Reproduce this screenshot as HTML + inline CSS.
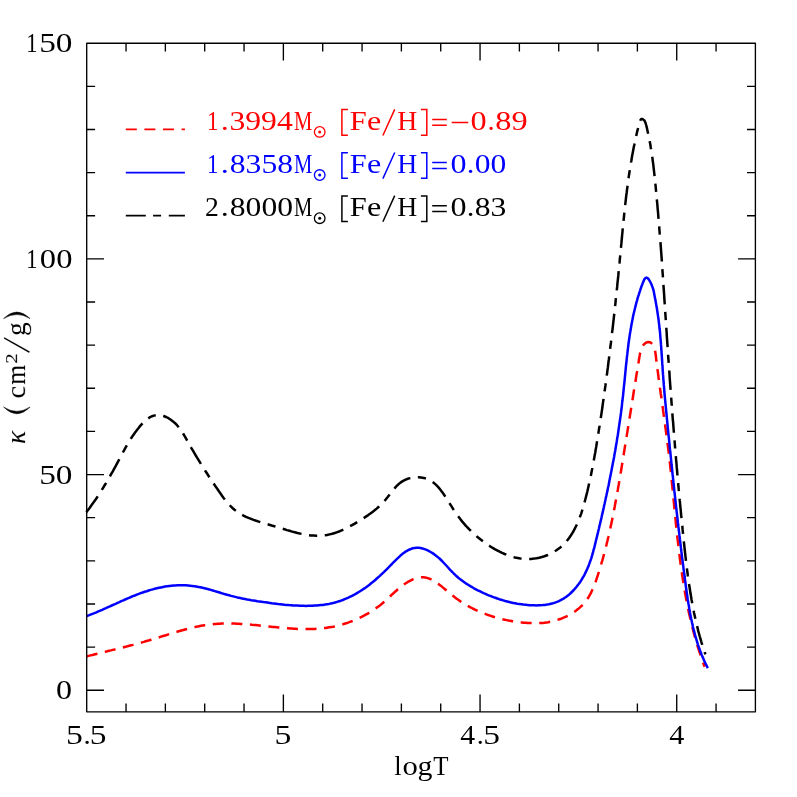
<!DOCTYPE html>
<html><head><meta charset="utf-8"><title>kappa vs logT</title>
<style>html,body{margin:0;padding:0;background:#fff;}body{width:797px;height:797px;overflow:hidden;font-family:"Liberation Serif",serif;}svg{display:block;}text{font-family:"Liberation Serif",serif;}</style></head><body>
<svg width="797" height="797" viewBox="0 0 797 797">
<rect x="0" y="0" width="797" height="797" fill="#fff"/>
<g fill="none" stroke-width="2.50" stroke-linejoin="round">
<path d="M86.8 656.4L88.6 655.9L90.5 655.4L92.4 655.0L94.2 654.5L96.1 654.0L98.0 653.6L99.8 653.1L101.7 652.6L103.5 652.2L105.4 651.7L107.2 651.3L109.1 650.8L110.9 650.4L112.7 649.9L114.6 649.5L116.4 649.0L118.3 648.6L120.1 648.1L121.9 647.7L123.8 647.2L125.6 646.7L127.4 646.3L129.3 645.8L131.1 645.3L132.9 644.9L134.7 644.4L136.6 643.9L138.4 643.4L140.2 642.9L142.1 642.4L143.9 641.9L145.7 641.3L147.5 640.8L149.4 640.3L151.2 639.7L153.0 639.2L154.9 638.6L156.7 638.0L158.5 637.5L160.4 636.9L162.2 636.3L164.0 635.7L165.9 635.2L167.7 634.6L169.5 634.0L171.4 633.4L173.2 632.9L175.1 632.3L176.9 631.8L178.7 631.2L180.6 630.7L182.4 630.2L184.3 629.7L186.1 629.2L188.0 628.7L189.8 628.2L191.7 627.8L193.5 627.4L195.4 626.9L197.3 626.6L199.1 626.2L201.0 625.8L202.8 625.5L204.7 625.2L206.6 624.9L208.5 624.6L210.3 624.4L212.2 624.2L214.1 624.0L216.0 623.9L217.8 623.8L219.7 623.7L221.6 623.6L223.5 623.5L225.4 623.5L227.3 623.5L229.1 623.5L231.0 623.5L232.9 623.6L234.8 623.6L236.7 623.7L238.6 623.8L240.5 623.9L242.4 624.0L244.3 624.1L246.2 624.3L248.1 624.4L250.0 624.6L251.9 624.8L253.8 624.9L255.7 625.1L257.6 625.3L259.5 625.5L261.4 625.7L263.3 625.9L265.2 626.1L267.2 626.3L269.1 626.5L271.0 626.7L272.9 626.9L274.8 627.1L276.7 627.3L278.6 627.5L280.5 627.7L282.4 627.9L284.3 628.0L286.2 628.2L288.1 628.3L290.0 628.5L291.9 628.6L293.8 628.7L295.7 628.8L297.6 628.9L299.5 629.0L301.4 629.0L303.3 629.1L305.2 629.1L307.1 629.1L308.9 629.1L310.8 629.1L312.7 629.0L314.6 628.9L316.5 628.8L318.4 628.7L320.2 628.5L322.1 628.3L324.0 628.1L325.9 627.9L327.7 627.6L329.6 627.3L331.5 627.0L333.3 626.7L335.2 626.3L337.1 625.8L338.9 625.4L340.8 624.9L342.6 624.4L344.4 623.8L346.3 623.2L348.1 622.6L349.9 621.9L351.7 621.3L353.5 620.5L355.3 619.8L357.1 619.0L358.8 618.2L360.6 617.4L362.3 616.5L364.0 615.7L365.7 614.7L367.3 613.8L369.0 612.8L370.6 611.8L372.2 610.8L373.8 609.8L375.4 608.7L376.9 607.6L378.4 606.5L379.9 605.4L381.3 604.2L382.8 603.0L384.2 601.8L385.6 600.6L386.9 599.3L388.3 598.1L389.6 596.8L391.0 595.5L392.3 594.2L393.7 593.0L395.1 591.7L396.5 590.5L397.9 589.2L399.4 588.0L400.9 586.8L402.5 585.6L404.1 584.4L405.8 583.3L407.5 582.2L409.3 581.2L411.0 580.3L412.8 579.4L414.6 578.7L416.4 578.1L418.2 577.7L420.0 577.4L421.8 577.3L423.5 577.3L425.2 577.5L426.9 577.9L428.5 578.4L430.2 579.0L431.8 579.8L433.4 580.6L435.0 581.6L436.6 582.6L438.2 583.7L439.7 584.9L441.3 586.1L442.8 587.4L444.4 588.7L445.9 590.0L447.4 591.3L449.0 592.6L450.5 593.9L452.0 595.1L453.6 596.3L455.1 597.5L456.7 598.7L458.3 599.8L459.8 600.9L461.4 602.0L463.0 603.0L464.6 604.0L466.2 605.0L467.8 605.9L469.5 606.8L471.1 607.7L472.7 608.5L474.4 609.3L476.1 610.1L477.7 610.9L479.4 611.7L481.2 612.4L482.9 613.1L484.6 613.7L486.4 614.4L488.1 615.0L489.9 615.6L491.7 616.2L493.5 616.8L495.4 617.3L497.2 617.8L499.1 618.3L501.0 618.8L502.8 619.3L504.7 619.7L506.6 620.1L508.5 620.5L510.4 620.8L512.3 621.2L514.3 621.5L516.2 621.8L518.1 622.0L520.0 622.3L521.9 622.5L523.8 622.7L525.7 622.8L527.6 623.0L529.5 623.1L531.4 623.1L533.3 623.2L535.2 623.2L537.1 623.2L538.9 623.1L540.8 623.0L542.7 622.9L544.5 622.7L546.4 622.4L548.2 622.2L550.1 621.8L552.0 621.4L553.8 621.0L555.7 620.5L557.5 619.9L559.3 619.3L561.2 618.7L563.0 617.9L564.8 617.2L566.5 616.4L568.3 615.5L570.0 614.5L571.7 613.6L573.3 612.5L574.9 611.5L576.5 610.3L578.0 609.1L579.4 607.9L580.8 606.6L582.2 605.3L583.5 603.9L584.7 602.5L585.9 601.1L587.0 599.6L588.0 598.0L589.0 596.4L589.9 594.8L590.8 593.2L591.6 591.5L592.4 589.8L593.2 588.1L593.9 586.3L594.6 584.6L595.2 582.8L595.9 581.0L596.5 579.2L597.1 577.4L597.7 575.6L598.3 573.7L598.9 571.9L599.4 570.1L600.0 568.3L600.6 566.4L601.1 564.6L601.6 562.7L602.2 560.9L602.7 559.1L603.2 557.2L603.7 555.4L604.2 553.5L604.7 551.7L605.2 549.8L605.6 548.0L606.1 546.1L606.6 544.2L607.0 542.4L607.5 540.5L607.9 538.7L608.4 536.8L608.8 534.9L609.2 533.1L609.7 531.2L610.1 529.3L610.5 527.4L610.9 525.6L611.3 523.7L611.7 521.8L612.1 519.9L612.5 518.1L612.8 516.2L613.2 514.3L613.6 512.4L614.0 510.6L614.3 508.7L614.7 506.8L615.0 504.9L615.4 503.1L615.7 501.2L616.1 499.3L616.4 497.4L616.8 495.5L617.1 493.7L617.4 491.8L617.8 489.9L618.1 488.0L618.4 486.2L618.8 484.3L619.1 482.4L619.4 480.5L619.7 478.7L620.0 476.8L620.3 474.9L620.6 473.1L621.0 471.2L621.3 469.3L621.6 467.5L621.9 465.6L622.2 463.7L622.5 461.9L622.8 460.0L623.1 458.2L623.4 456.3L623.7 454.5L624.0 452.6L624.3 450.8L624.6 448.9L624.9 447.0L625.2 445.2L625.5 443.3L625.8 441.5L626.1 439.6L626.4 437.8L626.7 435.9L627.0 434.1L627.3 432.2L627.6 430.4L627.9 428.5L628.2 426.6L628.5 424.8L628.8 422.9L629.1 421.0L629.4 419.2L629.7 417.3L630.0 415.4L630.3 413.6L630.6 411.7L630.9 409.8L631.2 407.9L631.5 406.0L631.8 404.2L632.1 402.3L632.4 400.4L632.7 398.5L633.0 396.6L633.3 394.7L633.6 392.7L633.9 390.8L634.2 388.9L634.5 387.0L634.9 385.1L635.2 383.1L635.5 381.2L635.8 379.2L636.1 377.3L636.4 375.3L636.7 373.4L637.1 371.4L637.4 369.4L637.7 367.5L638.0 365.5L638.3 363.5L638.7 361.5L639.0 359.5L639.3 357.5L639.7 355.5L640.0 353.6L640.5 351.7L641.0 349.9L641.6 348.2L642.3 346.7L643.2 345.3L644.2 344.1L645.3 343.2L646.7 342.4L648.2 342.0L649.7 342.2L651.1 342.9L652.3 344.0L653.3 345.3L654.0 346.8L654.6 348.6L655.0 350.4L655.3 352.3L655.6 354.3L655.9 356.3L656.1 358.3L656.3 360.3L656.6 362.3L656.8 364.3L657.1 366.3L657.3 368.3L657.6 370.2L657.9 372.2L658.1 374.1L658.4 376.1L658.6 378.0L658.9 380.0L659.2 381.9L659.4 383.8L659.7 385.7L659.9 387.7L660.2 389.6L660.5 391.5L660.7 393.4L661.0 395.3L661.3 397.2L661.5 399.1L661.8 401.0L662.1 402.9L662.3 404.8L662.6 406.7L662.9 408.6L663.1 410.4L663.4 412.3L663.6 414.2L663.9 416.1L664.2 417.9L664.4 419.8L664.7 421.7L664.9 423.6L665.2 425.4L665.4 427.3L665.7 429.2L665.9 431.0L666.2 432.9L666.4 434.8L666.7 436.6L666.9 438.5L667.2 440.4L667.4 442.2L667.6 444.1L667.9 446.0L668.1 447.8L668.3 449.7L668.6 451.6L668.8 453.4L669.0 455.3L669.2 457.2L669.4 459.1L669.6 461.0L669.9 462.8L670.1 464.7L670.3 466.6L670.5 468.5L670.7 470.4L670.9 472.3L671.1 474.1L671.2 476.0L671.4 477.9L671.6 479.8L671.8 481.7L672.0 483.6L672.2 485.5L672.4 487.4L672.6 489.3L672.8 491.2L672.9 493.1L673.1 495.0L673.3 496.9L673.5 498.8L673.7 500.7L673.9 502.6L674.1 504.5L674.2 506.4L674.4 508.3L674.6 510.2L674.8 512.1L675.0 514.0L675.2 515.9L675.4 517.8L675.6 519.7L675.7 521.6L675.9 523.5L676.1 525.4L676.3 527.3L676.5 529.2L676.7 531.1L676.9 533.0L677.1 534.9L677.3 536.8L677.5 538.7L677.8 540.6L678.0 542.5L678.2 544.4L678.4 546.3L678.6 548.2L678.9 550.1L679.1 552.0L679.3 553.9L679.6 555.8L679.8 557.7L680.0 559.6L680.3 561.5L680.5 563.4L680.8 565.3L681.0 567.2L681.3 569.1L681.6 571.0L681.9 572.9L682.1 574.7L682.4 576.6L682.7 578.5L683.0 580.4L683.3 582.3L683.6 584.2L683.9 586.0L684.2 587.9L684.5 589.8L684.9 591.7L685.2 593.5L685.5 595.4L685.9 597.3L686.2 599.2L686.6 601.0L686.9 602.9L687.3 604.8L687.7 606.6L688.1 608.5L688.4 610.3L688.8 612.2L689.2 614.0L689.7 615.9L690.1 617.7L690.5 619.6L690.9 621.4L691.4 623.3L691.8 625.1L692.3 627.0L692.8 628.8L693.2 630.6L693.7 632.5L694.2 634.3L694.7 636.1L695.2 637.9L695.7 639.8L696.3 641.6L696.8 643.4L697.3 645.2L697.9 647.0L698.5 648.8L699.0 650.6L699.6 652.4L700.2 654.2L700.8 656.0L701.4 657.8L702.1 659.6L702.7 661.4L703.3 663.2L704.0 665.0L704.7 666.7" stroke="#ff0000" stroke-dasharray="11 7.6"/>
<path d="M86.6 616.1L88.6 615.4L90.5 614.6L92.5 613.8L94.4 613.1L96.4 612.3L98.3 611.4L100.3 610.6L102.2 609.8L104.1 608.9L106.0 608.1L108.0 607.2L109.9 606.4L111.8 605.5L113.7 604.6L115.6 603.8L117.5 602.9L119.4 602.1L121.3 601.2L123.3 600.4L125.2 599.5L127.1 598.7L129.0 597.9L131.0 597.0L132.9 596.2L134.8 595.5L136.8 594.7L138.8 593.9L140.7 593.2L142.7 592.5L144.7 591.8L146.7 591.2L148.7 590.5L150.7 589.9L152.8 589.4L154.8 588.8L156.9 588.3L158.9 587.8L161.0 587.4L163.1 587.0L165.1 586.6L167.2 586.3L169.3 586.0L171.4 585.7L173.5 585.5L175.5 585.4L177.6 585.3L179.7 585.2L181.8 585.2L183.9 585.2L185.9 585.3L188.0 585.5L190.1 585.7L192.1 585.9L194.2 586.2L196.3 586.5L198.3 586.9L200.4 587.3L202.4 587.8L204.5 588.3L206.6 588.8L208.6 589.3L210.7 589.9L212.8 590.5L214.8 591.1L216.9 591.7L218.9 592.3L221.0 593.0L223.0 593.6L225.1 594.2L227.1 594.8L229.1 595.3L231.1 595.9L233.2 596.4L235.2 596.9L237.2 597.4L239.2 597.8L241.2 598.3L243.2 598.7L245.2 599.1L247.2 599.5L249.2 599.8L251.2 600.2L253.3 600.5L255.3 600.8L257.3 601.2L259.3 601.5L261.4 601.8L263.4 602.1L265.5 602.3L267.6 602.6L269.7 602.9L271.8 603.2L273.9 603.4L276.0 603.7L278.1 604.0L280.2 604.2L282.4 604.4L284.5 604.7L286.7 604.9L288.8 605.1L291.0 605.2L293.1 605.4L295.3 605.5L297.5 605.6L299.6 605.7L301.8 605.8L303.9 605.8L306.1 605.9L308.2 605.8L310.3 605.8L312.5 605.7L314.6 605.6L316.7 605.5L318.8 605.3L320.9 605.1L323.0 604.9L325.0 604.6L327.1 604.2L329.1 603.9L331.1 603.4L333.1 603.0L335.1 602.5L337.1 601.9L339.0 601.3L340.9 600.7L342.8 600.0L344.7 599.2L346.6 598.4L348.4 597.6L350.3 596.7L352.1 595.8L353.9 594.9L355.7 593.9L357.4 592.9L359.2 591.8L360.9 590.7L362.7 589.5L364.4 588.4L366.1 587.2L367.8 585.9L369.5 584.7L371.1 583.3L372.8 582.0L374.4 580.7L376.0 579.3L377.7 577.8L379.3 576.4L380.9 574.9L382.5 573.4L384.1 571.9L385.6 570.4L387.2 568.8L388.8 567.2L390.3 565.6L391.9 564.0L393.4 562.4L395.0 560.8L396.5 559.3L398.1 557.8L399.7 556.3L401.2 554.9L402.9 553.6L404.5 552.4L406.1 551.3L407.8 550.3L409.5 549.5L411.3 548.8L413.0 548.3L414.8 547.9L416.7 547.7L418.6 547.8L420.6 548.0L422.5 548.5L424.6 549.1L426.6 549.9L428.6 550.9L430.6 552.0L432.5 553.1L434.4 554.4L436.1 555.7L437.8 557.1L439.5 558.5L441.0 560.0L442.5 561.5L443.9 563.0L445.3 564.5L446.7 566.0L448.1 567.5L449.5 569.1L450.9 570.6L452.3 572.0L453.7 573.5L455.2 574.9L456.7 576.3L458.3 577.7L459.9 579.0L461.6 580.2L463.3 581.5L465.0 582.7L466.7 583.9L468.5 585.0L470.3 586.1L472.2 587.2L474.0 588.3L475.9 589.3L477.8 590.3L479.7 591.2L481.6 592.2L483.6 593.1L485.5 593.9L487.5 594.8L489.4 595.6L491.4 596.3L493.3 597.1L495.3 597.8L497.3 598.5L499.2 599.2L501.2 599.8L503.2 600.4L505.2 601.0L507.2 601.5L509.2 602.0L511.2 602.5L513.2 602.9L515.2 603.3L517.2 603.7L519.3 604.0L521.4 604.3L523.4 604.6L525.5 604.8L527.6 605.0L529.8 605.2L531.9 605.3L534.1 605.3L536.2 605.4L538.4 605.3L540.5 605.2L542.6 605.1L544.8 604.9L546.9 604.6L548.9 604.2L551.0 603.7L553.0 603.2L555.0 602.6L557.0 601.9L558.9 601.1L560.7 600.2L562.5 599.2L564.3 598.1L566.0 596.9L567.6 595.7L569.3 594.4L570.8 593.0L572.3 591.5L573.8 590.0L575.2 588.4L576.6 586.8L577.9 585.1L579.1 583.4L580.4 581.7L581.5 579.9L582.6 578.0L583.7 576.2L584.7 574.3L585.6 572.4L586.5 570.5L587.4 568.6L588.2 566.7L589.0 564.7L589.7 562.7L590.4 560.8L591.1 558.8L591.7 556.8L592.3 554.8L592.9 552.7L593.4 550.7L594.0 548.7L594.5 546.7L595.0 544.6L595.5 542.6L596.0 540.5L596.5 538.5L597.0 536.4L597.5 534.4L598.0 532.4L598.5 530.3L599.0 528.3L599.4 526.2L599.9 524.2L600.4 522.1L600.9 520.1L601.4 518.0L601.8 516.0L602.3 513.9L602.8 511.9L603.2 509.9L603.7 507.8L604.1 505.8L604.6 503.7L605.0 501.7L605.5 499.6L605.9 497.6L606.4 495.5L606.8 493.5L607.3 491.4L607.7 489.4L608.1 487.3L608.6 485.3L609.0 483.2L609.4 481.1L609.8 479.1L610.2 477.0L610.6 475.0L611.0 472.9L611.4 470.9L611.8 468.8L612.2 466.7L612.6 464.7L613.0 462.6L613.4 460.6L613.8 458.5L614.2 456.4L614.5 454.4L614.9 452.3L615.3 450.2L615.6 448.2L616.0 446.1L616.3 444.0L616.7 442.0L617.0 439.9L617.3 437.8L617.7 435.8L618.0 433.7L618.3 431.6L618.6 429.5L618.9 427.5L619.2 425.4L619.5 423.3L619.8 421.2L620.1 419.1L620.4 417.1L620.7 415.0L621.0 412.9L621.2 410.8L621.5 408.7L621.8 406.6L622.0 404.5L622.2 402.4L622.5 400.3L622.7 398.2L623.0 396.1L623.2 394.1L623.4 392.0L623.6 389.9L623.8 387.8L624.0 385.7L624.3 383.6L624.5 381.4L624.7 379.3L624.9 377.2L625.1 375.1L625.3 373.0L625.5 370.9L625.7 368.8L625.9 366.7L626.1 364.6L626.4 362.5L626.6 360.4L626.8 358.3L627.0 356.2L627.3 354.2L627.5 352.1L627.8 350.0L628.0 347.9L628.3 345.8L628.5 343.7L628.8 341.6L629.1 339.5L629.4 337.5L629.7 335.4L630.0 333.3L630.4 331.2L630.7 329.2L631.1 327.1L631.4 325.0L631.8 323.0L632.2 320.9L632.6 318.9L633.0 316.8L633.4 314.8L633.9 312.7L634.4 310.7L634.9 308.7L635.4 306.6L635.9 304.6L636.4 302.6L637.0 300.6L637.5 298.6L638.1 296.6L638.8 294.6L639.4 292.6L640.1 290.6L640.7 288.6L641.4 286.6L642.2 284.7L642.9 282.7L643.7 280.8L644.5 279.1L645.5 278.0L646.5 277.6L647.7 278.1L648.9 279.6L650.2 281.8L651.4 284.2L652.3 286.6L653.1 288.9L653.7 291.1L654.1 293.3L654.5 295.4L654.9 297.4L655.3 299.5L655.7 301.6L656.0 303.6L656.4 305.7L656.8 307.7L657.1 309.7L657.4 311.8L657.7 313.8L658.0 315.9L658.3 317.9L658.6 320.0L658.8 322.0L659.1 324.1L659.3 326.2L659.5 328.3L659.8 330.3L660.0 332.4L660.2 334.5L660.3 336.6L660.5 338.7L660.7 340.8L660.9 342.9L661.0 344.9L661.2 347.0L661.3 349.1L661.5 351.2L661.6 353.3L661.8 355.4L661.9 357.6L662.0 359.7L662.2 361.8L662.3 363.9L662.5 366.0L662.6 368.1L662.7 370.2L662.9 372.3L663.0 374.4L663.2 376.5L663.3 378.6L663.5 380.7L663.7 382.8L663.8 384.9L664.0 387.0L664.2 389.1L664.3 391.2L664.5 393.3L664.7 395.4L664.9 397.5L665.1 399.6L665.3 401.7L665.5 403.7L665.7 405.8L665.9 407.9L666.1 410.0L666.3 412.1L666.5 414.2L666.7 416.3L666.9 418.4L667.1 420.5L667.3 422.6L667.5 424.6L667.7 426.7L667.9 428.8L668.1 430.9L668.3 433.0L668.5 435.1L668.8 437.2L669.0 439.3L669.2 441.3L669.4 443.4L669.6 445.5L669.8 447.6L670.0 449.7L670.3 451.8L670.5 453.9L670.7 456.0L670.9 458.0L671.1 460.1L671.3 462.2L671.5 464.3L671.8 466.4L672.0 468.5L672.2 470.6L672.4 472.6L672.6 474.7L672.9 476.8L673.1 478.9L673.3 481.0L673.5 483.1L673.8 485.2L674.0 487.3L674.2 489.3L674.4 491.4L674.7 493.5L674.9 495.6L675.1 497.7L675.3 499.8L675.6 501.9L675.8 503.9L676.0 506.0L676.3 508.1L676.5 510.2L676.7 512.3L677.0 514.4L677.2 516.5L677.5 518.5L677.7 520.6L677.9 522.7L678.2 524.8L678.4 526.9L678.7 529.0L678.9 531.1L679.2 533.1L679.4 535.2L679.7 537.3L679.9 539.4L680.2 541.5L680.4 543.6L680.7 545.7L680.9 547.7L681.2 549.8L681.4 551.9L681.7 554.0L681.9 556.1L682.2 558.2L682.5 560.3L682.7 562.3L683.0 564.4L683.3 566.5L683.5 568.6L683.8 570.7L684.1 572.8L684.4 574.9L684.6 577.0L684.9 579.0L685.2 581.1L685.5 583.2L685.7 585.3L686.0 587.4L686.3 589.5L686.6 591.5L686.9 593.6L687.2 595.7L687.5 597.8L687.8 599.9L688.2 602.0L688.5 604.0L688.9 606.1L689.2 608.2L689.6 610.2L689.9 612.3L690.3 614.4L690.7 616.4L691.1 618.5L691.6 620.5L692.0 622.6L692.5 624.6L692.9 626.7L693.4 628.7L693.9 630.7L694.5 632.7L695.0 634.8L695.6 636.8L696.2 638.8L696.8 640.8L697.4 642.8L698.0 644.8L698.7 646.8L699.4 648.7L700.1 650.7L700.9 652.7L701.6 654.6L702.4 656.6L703.3 658.5L704.1 660.4L705.0 662.4L705.9 664.3L706.9 666.2L707.8 668.1" stroke="#0000ff"/>
<path d="M86.3 512.1L88.0 510.0L89.6 507.9L91.1 505.8L92.7 503.6L94.2 501.4L95.8 499.2L97.3 497.0L98.8 494.7L100.2 492.4L101.7 490.1L103.1 487.8L104.5 485.5L106.0 483.1L107.3 480.8L108.7 478.4L110.1 476.0L111.4 473.7L112.8 471.3L114.1 468.9L115.4 466.6L116.7 464.2L117.9 461.9L119.2 459.5L120.4 457.2L121.7 454.9L122.9 452.5L124.2 450.2L125.4 447.9L126.7 445.6L128.1 443.4L129.4 441.1L130.8 438.8L132.3 436.5L133.9 434.2L135.5 431.9L137.2 429.7L139.0 427.4L140.9 425.1L142.8 423.0L144.9 421.0L147.0 419.3L149.2 417.7L151.4 416.5L153.8 415.6L156.2 415.1L158.6 415.0L161.1 415.3L163.6 416.0L166.1 417.0L168.5 418.2L170.8 419.7L173.0 421.4L175.1 423.2L177.0 425.2L178.8 427.3L180.4 429.5L182.0 431.7L183.4 434.0L184.8 436.3L186.1 438.7L187.4 441.0L188.7 443.4L190.1 445.7L191.4 448.1L192.8 450.4L194.1 452.7L195.5 455.0L196.9 457.3L198.3 459.6L199.7 461.9L201.1 464.2L202.5 466.5L204.0 468.7L205.4 471.0L206.9 473.3L208.3 475.5L209.8 477.8L211.3 480.0L212.8 482.3L214.3 484.5L215.8 486.8L217.4 489.0L218.9 491.3L220.5 493.5L222.0 495.7L223.6 497.9L225.3 500.1L227.0 502.2L228.8 504.2L230.6 506.2L232.5 508.0L234.5 509.8L236.7 511.4L238.9 512.9L241.2 514.3L243.5 515.6L246.0 516.8L248.5 517.9L251.0 518.9L253.6 519.9L256.2 520.8L258.8 521.6L261.4 522.5L264.0 523.2L266.6 524.0L269.2 524.7L271.7 525.5L274.3 526.2L276.8 527.0L279.3 527.7L281.9 528.5L284.4 529.3L287.0 530.1L289.6 530.8L292.2 531.6L294.8 532.3L297.5 533.0L300.2 533.6L302.9 534.2L305.6 534.7L308.3 535.1L311.0 535.4L313.7 535.6L316.4 535.8L319.1 535.8L321.8 535.6L324.4 535.4L327.0 535.0L329.6 534.4L332.2 533.8L334.8 533.0L337.3 532.1L339.8 531.2L342.3 530.1L344.8 529.0L347.2 527.8L349.6 526.5L352.0 525.2L354.4 523.8L356.8 522.4L359.1 521.0L361.4 519.6L363.7 518.1L365.9 516.6L368.2 515.1L370.4 513.5L372.5 511.9L374.6 510.3L376.7 508.6L378.7 506.8L380.6 505.0L382.5 503.1L384.4 501.1L386.1 499.0L387.9 496.8L389.5 494.7L391.2 492.5L392.9 490.3L394.7 488.2L396.5 486.2L398.4 484.3L400.5 482.6L402.7 481.1L405.1 479.9L407.6 478.8L410.2 478.1L412.9 477.5L415.7 477.2L418.4 477.2L421.1 477.4L423.7 477.9L426.2 478.6L428.6 479.6L430.8 480.8L433.0 482.2L435.0 483.9L436.9 485.7L438.7 487.6L440.4 489.7L442.1 491.9L443.7 494.2L445.3 496.6L446.9 499.0L448.4 501.4L449.9 503.8L451.4 506.2L452.9 508.6L454.4 510.9L455.9 513.2L457.5 515.4L459.1 517.5L460.7 519.6L462.3 521.6L464.0 523.6L465.7 525.6L467.5 527.5L469.3 529.3L471.1 531.2L473.0 533.0L474.9 534.7L476.9 536.5L479.0 538.2L481.0 539.8L483.2 541.5L485.4 543.1L487.7 544.7L490.0 546.2L492.3 547.7L494.7 549.1L497.1 550.4L499.6 551.7L502.1 552.9L504.6 554.0L507.2 555.0L509.8 555.9L512.4 556.8L515.0 557.5L517.7 558.0L520.4 558.5L523.1 558.8L525.8 559.0L528.5 559.0L531.2 558.9L533.9 558.6L536.5 558.2L539.2 557.7L541.8 557.0L544.4 556.2L547.0 555.3L549.4 554.2L551.8 553.0L554.2 551.7L556.4 550.3L558.5 548.8L560.6 547.2L562.5 545.5L564.3 543.6L566.1 541.7L567.8 539.7L569.3 537.7L570.8 535.5L572.2 533.3L573.6 531.0L574.8 528.7L576.0 526.3L577.2 523.8L578.2 521.3L579.3 518.8L580.2 516.2L581.2 513.6L582.0 511.0L582.9 508.3L583.7 505.6L584.4 502.9L585.1 500.2L585.8 497.5L586.5 494.8L587.2 492.1L587.8 489.4L588.4 486.7L589.0 484.0L589.6 481.3L590.2 478.6L590.8 476.0L591.3 473.3L591.8 470.7L592.4 468.0L592.9 465.4L593.4 462.7L593.9 460.1L594.3 457.4L594.8 454.8L595.3 452.2L595.7 449.5L596.2 446.9L596.6 444.3L597.0 441.6L597.5 439.0L597.9 436.4L598.3 433.7L598.7 431.1L599.1 428.5L599.6 425.8L600.0 423.2L600.4 420.5L600.8 417.9L601.2 415.2L601.6 412.6L602.0 409.9L602.4 407.3L602.7 404.6L603.1 401.9L603.5 399.3L603.9 396.6L604.3 394.0L604.6 391.3L605.0 388.6L605.4 385.9L605.7 383.3L606.1 380.6L606.4 377.9L606.8 375.2L607.2 372.6L607.5 369.9L607.9 367.2L608.2 364.5L608.5 361.8L608.9 359.2L609.2 356.5L609.6 353.8L609.9 351.1L610.2 348.4L610.5 345.7L610.9 343.0L611.2 340.3L611.5 337.6L611.8 335.0L612.1 332.3L612.5 329.6L612.8 326.9L613.1 324.2L613.4 321.5L613.7 318.8L614.0 316.1L614.3 313.4L614.6 310.7L614.9 308.0L615.2 305.3L615.5 302.6L615.7 299.9L616.0 297.2L616.3 294.5L616.6 291.8L616.9 289.1L617.2 286.4L617.4 283.7L617.7 281.1L618.0 278.4L618.3 275.7L618.5 273.0L618.8 270.3L619.1 267.6L619.3 264.9L619.6 262.2L619.8 259.5L620.1 256.8L620.3 254.1L620.6 251.4L620.9 248.8L621.1 246.1L621.4 243.4L621.6 240.7L621.9 238.0L622.1 235.3L622.4 232.6L622.6 230.0L622.9 227.3L623.2 224.6L623.4 221.9L623.7 219.2L624.0 216.6L624.2 213.9L624.5 211.2L624.8 208.5L625.1 205.8L625.4 203.2L625.7 200.5L626.0 197.8L626.3 195.1L626.7 192.5L627.0 189.8L627.4 187.1L627.7 184.5L628.1 181.8L628.4 179.1L628.8 176.4L629.2 173.8L629.6 171.1L630.0 168.4L630.5 165.8L630.9 163.1L631.4 160.4L631.8 157.8L632.3 155.1L632.8 152.4L633.3 149.8L633.8 147.1L634.4 144.4L634.9 141.8L635.5 139.1L636.1 136.4L636.7 133.8L637.3 131.1L638.0 128.4L638.6 125.8L639.3 123.1L640.1 120.7L641.1 119.1L642.7 119.1L644.4 120.5L645.5 122.8L646.3 125.5L647.0 128.4L647.6 131.2L648.2 134.0L648.8 136.8L649.4 139.5L649.9 142.3L650.4 145.0L650.8 147.8L651.3 150.5L651.7 153.2L652.1 155.9L652.5 158.6L652.8 161.3L653.2 163.9L653.5 166.6L653.8 169.3L654.1 171.9L654.4 174.6L654.7 177.3L654.9 179.9L655.2 182.6L655.5 185.2L655.8 187.9L656.0 190.6L656.3 193.2L656.5 195.9L656.8 198.6L657.0 201.3L657.3 203.9L657.5 206.6L657.7 209.3L658.0 212.0L658.2 214.7L658.4 217.3L658.7 220.0L658.9 222.7L659.1 225.4L659.3 228.1L659.5 230.8L659.7 233.4L660.0 236.1L660.2 238.8L660.4 241.5L660.6 244.2L660.8 246.9L661.0 249.6L661.2 252.3L661.4 255.0L661.6 257.7L661.8 260.4L661.9 263.1L662.1 265.8L662.3 268.5L662.5 271.2L662.7 273.9L662.9 276.6L663.1 279.3L663.3 282.0L663.4 284.7L663.6 287.4L663.8 290.1L664.0 292.8L664.2 295.5L664.3 298.2L664.5 300.9L664.7 303.6L664.9 306.3L665.1 309.0L665.2 311.7L665.4 314.4L665.6 317.1L665.8 319.8L665.9 322.5L666.1 325.2L666.3 327.9L666.5 330.6L666.7 333.3L666.8 336.0L667.0 338.7L667.2 341.4L667.4 344.1L667.6 346.8L667.8 349.5L667.9 352.2L668.1 354.9L668.3 357.6L668.5 360.3L668.7 363.0L668.9 365.7L669.1 368.4L669.3 371.1L669.5 373.8L669.6 376.5L669.8 379.1L670.0 381.8L670.2 384.5L670.4 387.2L670.6 389.9L670.8 392.6L671.0 395.3L671.2 398.0L671.4 400.7L671.6 403.4L671.8 406.1L672.0 408.7L672.2 411.4L672.4 414.1L672.6 416.8L672.8 419.5L673.1 422.2L673.3 424.9L673.5 427.6L673.7 430.3L673.9 432.9L674.1 435.6L674.3 438.3L674.6 441.0L674.8 443.7L675.0 446.4L675.2 449.1L675.4 451.8L675.7 454.5L675.9 457.1L676.1 459.8L676.4 462.5L676.6 465.2L676.8 467.9L677.1 470.6L677.3 473.3L677.5 476.0L677.8 478.6L678.0 481.3L678.2 484.0L678.5 486.7L678.7 489.4L679.0 492.1L679.2 494.8L679.5 497.5L679.7 500.2L680.0 502.8L680.2 505.5L680.5 508.2L680.8 510.9L681.0 513.6L681.3 516.3L681.6 519.0L681.8 521.7L682.1 524.4L682.4 527.0L682.6 529.7L682.9 532.4L683.2 535.1L683.5 537.8L683.7 540.5L684.0 543.2L684.3 545.9L684.6 548.6L684.9 551.3L685.2 554.0L685.5 556.6L685.8 559.3L686.1 562.0L686.4 564.7L686.8 567.4L687.1 570.1L687.5 572.8L687.8 575.4L688.2 578.1L688.6 580.8L688.9 583.5L689.3 586.1L689.8 588.8L690.2 591.5L690.6 594.1L691.1 596.8L691.5 599.5L692.0 602.1L692.5 604.8L693.0 607.4L693.5 610.1L694.0 612.7L694.6 615.3L695.2 618.0L695.8 620.6L696.4 623.2L697.0 625.9L697.7 628.5L698.3 631.1L699.0 633.7L699.7 636.3L700.5 638.9L701.2 641.5L702.0 644.1L702.8 646.6L703.6 649.2L704.5 651.8L705.4 654.3" stroke="#000" stroke-dasharray="19.5 7.6 8.2 7.6"/>
</g>
<path d="M86.70 43.20H755.40V711.80H86.70ZM86.70 711.80v-17.30M86.70 43.20v17.30M126.04 711.80v-8.40M126.04 43.20v8.40M165.37 711.80v-8.40M165.37 43.20v8.40M204.71 711.80v-8.40M204.71 43.20v8.40M244.04 711.80v-8.40M244.04 43.20v8.40M283.38 711.80v-17.30M283.38 43.20v17.30M322.71 711.80v-8.40M322.71 43.20v8.40M362.05 711.80v-8.40M362.05 43.20v8.40M401.38 711.80v-8.40M401.38 43.20v8.40M440.72 711.80v-8.40M440.72 43.20v8.40M480.05 711.80v-17.30M480.05 43.20v17.30M519.39 711.80v-8.40M519.39 43.20v8.40M558.72 711.80v-8.40M558.72 43.20v8.40M598.06 711.80v-8.40M598.06 43.20v8.40M637.39 711.80v-8.40M637.39 43.20v8.40M676.73 711.80v-17.30M676.73 43.20v17.30M716.06 711.80v-8.40M716.06 43.20v8.40M755.40 711.80v-8.40M755.40 43.20v8.40M86.70 690.23h17.30M755.40 690.23h-17.30M86.70 647.10h8.40M755.40 647.10h-8.40M86.70 603.96h8.40M755.40 603.96h-8.40M86.70 560.83h8.40M755.40 560.83h-8.40M86.70 517.69h8.40M755.40 517.69h-8.40M86.70 474.55h17.30M755.40 474.55h-17.30M86.70 431.42h8.40M755.40 431.42h-8.40M86.70 388.28h8.40M755.40 388.28h-8.40M86.70 345.15h8.40M755.40 345.15h-8.40M86.70 302.01h8.40M755.40 302.01h-8.40M86.70 258.88h17.30M755.40 258.88h-17.30M86.70 215.74h8.40M755.40 215.74h-8.40M86.70 172.61h8.40M755.40 172.61h-8.40M86.70 129.47h8.40M755.40 129.47h-8.40M86.70 86.34h8.40M755.40 86.34h-8.40M86.70 43.20h17.30M755.40 43.20h-17.30" fill="none" stroke="#000" stroke-width="1.35" stroke-linecap="butt" stroke-linejoin="round"/>
<g font-family="Liberation Serif, serif" opacity="0.999">
<text y="52.40" font-size="27.50" fill="#000"><tspan x="26.23" textLength="11.22" lengthAdjust="spacingAndGlyphs">1</tspan><tspan x="39.16" textLength="33.30" lengthAdjust="spacingAndGlyphs">50</tspan></text>
<text y="268.08" font-size="27.50" fill="#000"><tspan x="26.23" textLength="11.22" lengthAdjust="spacingAndGlyphs">1</tspan><tspan x="39.86" textLength="32.58" lengthAdjust="spacingAndGlyphs">00</tspan></text>
<text y="483.75" font-size="27.50" fill="#000"><tspan x="39.16" textLength="33.30" lengthAdjust="spacingAndGlyphs">50</tspan></text>
<text y="699.43" font-size="27.50" fill="#000"><tspan x="56.08" textLength="16.04" lengthAdjust="spacingAndGlyphs">0</tspan></text>
<text y="743.90" font-size="27.50" fill="#000"><tspan x="65.94" textLength="16.88" lengthAdjust="spacingAndGlyphs">5</tspan><tspan x="83.60" textLength="7.19" lengthAdjust="spacingAndGlyphs">.</tspan><tspan x="89.85" textLength="16.76" lengthAdjust="spacingAndGlyphs">5</tspan></text>
<text y="743.90" font-size="27.50" fill="#000"><tspan x="274.64" textLength="16.88" lengthAdjust="spacingAndGlyphs">5</tspan></text>
<text y="743.90" font-size="27.50" fill="#000"><tspan x="460.32" textLength="14.84" lengthAdjust="spacingAndGlyphs">4</tspan><tspan x="476.86" textLength="6.98" lengthAdjust="spacingAndGlyphs">.</tspan><tspan x="483.25" textLength="16.76" lengthAdjust="spacingAndGlyphs">5</tspan></text>
<text y="743.90" font-size="27.50" fill="#000"><tspan x="669.31" textLength="15.06" lengthAdjust="spacingAndGlyphs">4</tspan></text>
<text y="775.40" font-size="27.50" fill="#000"><tspan x="394.27" textLength="7.36" lengthAdjust="spacingAndGlyphs">l</tspan><tspan x="402.43" textLength="15.34" lengthAdjust="spacingAndGlyphs">o</tspan><tspan x="417.61" textLength="14.95" lengthAdjust="spacingAndGlyphs">g</tspan><tspan x="433.25" textLength="15.27" lengthAdjust="spacingAndGlyphs">T</tspan></text>
<g transform="translate(25.1 0) rotate(-90)">
<text x="-444.01" y="0.00" font-size="27.50" fill="#000" textLength="13.21" lengthAdjust="spacingAndGlyphs" font-style="italic">κ</text>
<path d="M-407.0 -21.5Q-420.6 -8.2 -407.0 5.0Q-415.6 -8.2 -407.0 -21.5ZM-318.6 -21.5Q-305.4 -8.2 -318.6 5.0Q-310.4 -8.2 -318.6 -21.5Z" fill="#000" stroke="#000" stroke-width="0.5" stroke-linejoin="round"/>
<text y="0.00" font-size="27.50" fill="#000"><tspan x="-398.49" textLength="12.66" lengthAdjust="spacingAndGlyphs">c</tspan><tspan x="-384.84" textLength="19.94" lengthAdjust="spacingAndGlyphs">m</tspan></text>
<text x="-363.72" y="-7.90" font-size="17.20" fill="#000" textLength="10.48" lengthAdjust="spacingAndGlyphs">2</text>
<path d="M-352.2 4.4L-337.9 -21" stroke="#000" stroke-width="1.5" fill="none"/>
<text y="0.00" font-size="27.50" fill="#000"><tspan x="-336.08" textLength="13.70" lengthAdjust="spacingAndGlyphs">g</tspan></text>
</g>
<path d="M125.8 129.47H184.9" stroke="#ff0000" stroke-width="1.75" fill="none" stroke-dasharray="11 7.6"/>
<circle cx="319.7" cy="131.92" r="5.3" fill="none" stroke="#ff0000" stroke-width="1.3"/>
<circle cx="319.7" cy="131.92" r="1.5" fill="#ff0000"/>
<path d="M347.9 109.62H341.9V135.22H347.9M420.9 109.62H426.8V135.22H420.9M382.9 135.52L394.7 109.32M432.2 119.42H446.8M432.2 125.32H446.8M451.7 122.42H468.3" stroke="#ff0000" stroke-width="1.5" fill="none"/>
<text y="130.22" font-size="27.50" fill="#ff0000"><tspan x="206.98" textLength="11.50" lengthAdjust="spacingAndGlyphs">1</tspan><tspan x="220.68" textLength="8.04" lengthAdjust="spacingAndGlyphs">.</tspan><tspan x="229.49" textLength="63.21" lengthAdjust="spacingAndGlyphs">3994</tspan><tspan x="294.01" textLength="18.30" lengthAdjust="spacingAndGlyphs">M</tspan><tspan x="349.72" textLength="16.98" lengthAdjust="spacingAndGlyphs">F</tspan><tspan x="366.94" textLength="14.27" lengthAdjust="spacingAndGlyphs">e</tspan><tspan x="397.20" textLength="20.01" lengthAdjust="spacingAndGlyphs">H</tspan><tspan x="470.57" textLength="16.16" lengthAdjust="spacingAndGlyphs">0</tspan><tspan x="487.50" textLength="7.19" lengthAdjust="spacingAndGlyphs">.</tspan><tspan x="495.27" textLength="32.36" lengthAdjust="spacingAndGlyphs">89</tspan></text>
<path d="M125.8 172.61H184.9" stroke="#0000ff" stroke-width="1.75" fill="none"/>
<circle cx="319.7" cy="175.06" r="5.3" fill="none" stroke="#0000ff" stroke-width="1.3"/>
<circle cx="319.7" cy="175.06" r="1.5" fill="#0000ff"/>
<path d="M347.9 152.76H341.9V178.36H347.9M420.9 152.76H426.8V178.36H420.9M382.9 178.66L394.7 152.46M432.2 162.56H446.8M432.2 168.46H446.8" stroke="#0000ff" stroke-width="1.5" fill="none"/>
<text y="173.36" font-size="27.50" fill="#0000ff"><tspan x="206.98" textLength="11.50" lengthAdjust="spacingAndGlyphs">1</tspan><tspan x="220.68" textLength="8.04" lengthAdjust="spacingAndGlyphs">.</tspan><tspan x="229.80" textLength="63.21" lengthAdjust="spacingAndGlyphs">8358</tspan><tspan x="294.01" textLength="18.30" lengthAdjust="spacingAndGlyphs">M</tspan><tspan x="349.72" textLength="16.98" lengthAdjust="spacingAndGlyphs">F</tspan><tspan x="366.94" textLength="14.27" lengthAdjust="spacingAndGlyphs">e</tspan><tspan x="397.20" textLength="20.01" lengthAdjust="spacingAndGlyphs">H</tspan><tspan x="450.58" textLength="16.04" lengthAdjust="spacingAndGlyphs">0</tspan><tspan x="466.89" textLength="7.62" lengthAdjust="spacingAndGlyphs">.</tspan><tspan x="474.80" textLength="31.61" lengthAdjust="spacingAndGlyphs">00</tspan></text>
<path d="M125.8 215.74H184.9" stroke="#000000" stroke-width="1.75" fill="none" stroke-dasharray="20 7.3 8 7.7"/>
<circle cx="319.7" cy="218.19" r="5.3" fill="none" stroke="#000000" stroke-width="1.3"/>
<circle cx="319.7" cy="218.19" r="1.5" fill="#000000"/>
<path d="M347.9 195.89H341.9V221.49H347.9M420.9 195.89H426.8V221.49H420.9M382.9 221.79L394.7 195.59M432.2 205.69H446.8M432.2 211.59H446.8" stroke="#000000" stroke-width="1.5" fill="none"/>
<text y="216.49" font-size="27.50" fill="#000000"><tspan x="204.98" textLength="13.84" lengthAdjust="spacingAndGlyphs">2</tspan><tspan x="220.68" textLength="8.04" lengthAdjust="spacingAndGlyphs">.</tspan><tspan x="229.80" textLength="63.21" lengthAdjust="spacingAndGlyphs">8000</tspan><tspan x="294.01" textLength="18.30" lengthAdjust="spacingAndGlyphs">M</tspan><tspan x="349.72" textLength="16.98" lengthAdjust="spacingAndGlyphs">F</tspan><tspan x="366.94" textLength="14.27" lengthAdjust="spacingAndGlyphs">e</tspan><tspan x="397.20" textLength="20.01" lengthAdjust="spacingAndGlyphs">H</tspan><tspan x="450.58" textLength="16.04" lengthAdjust="spacingAndGlyphs">0</tspan><tspan x="466.89" textLength="7.62" lengthAdjust="spacingAndGlyphs">.</tspan><tspan x="474.79" textLength="31.64" lengthAdjust="spacingAndGlyphs">83</tspan></text>
</g>
</svg></body></html>
